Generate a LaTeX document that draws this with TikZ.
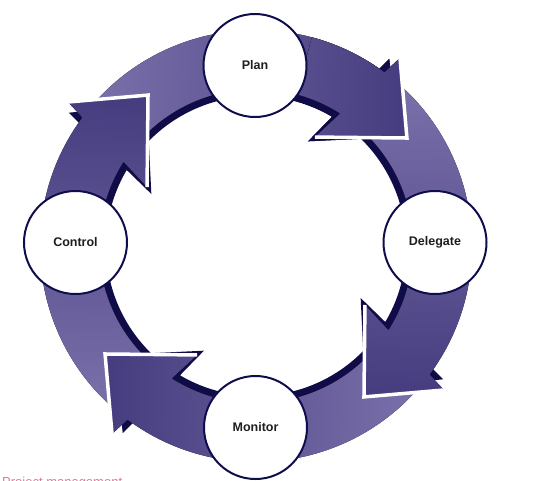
\documentclass[tikz,border=0pt]{standalone}
\usepackage{fontspec}
\setmainfont{Liberation Sans}
\definecolor{ltp}{HTML}{7A70AA}
\definecolor{dkp}{HTML}{463D80}
\definecolor{shd}{HTML}{100C48}
\definecolor{ringc}{HTML}{0F0E4D}
\definecolor{txt}{HTML}{1E1E1E}
\definecolor{pinktxt}{HTML}{E8749A}
% #1 rotation, #2 angle offset, #3 radius offset
\newcommand{\segpath}[3]{({140+#1+#2}:{157pt-#3pt}) arc[start angle={140+#1+#2}, end angle={57.55+#1+#2}, radius={157pt-#3pt}] -- ({61.57+#1+#2}:{123.9pt-#3pt}) -- ({35.58+#1+#2}:{185.6pt-#3pt}) -- ({52.55+#1+#2}:{236.8pt-#3pt}) -- ({53.49+#1+#2}:{216pt-#3pt}) arc[start angle={53.49+#1+#2}, end angle={140+#1+#2}, radius={216pt-#3pt}] -- cycle}
\newcommand{\drawseg}[1]{%
  \fill[shd] \segpath{#1}{2}{7};
  \fill[top color=dkp, bottom color=ltp, shading angle={#1-92}] \segpath{#1}{0}{0};
}
\newcommand{\tipstroke}[1]{%
  \draw[white, line width=3.5pt, line join=miter, line cap=butt] ({61.57+#1}:123.9pt) -- ({35.58+#1}:185.6pt) -- ({52.55+#1}:236.8pt);
}
\tikzset{stage/.style={circle, draw=ringc, line width=2pt, fill=white, minimum size=103pt, inner sep=0pt, text=txt, font=\bfseries\fontsize{12.5}{14}\selectfont}}
\begin{document}
\begin{tikzpicture}[x=1pt,y=1pt]
\useasboundingbox (-256,-234) rectangle (289,246);
% arrows of the cycle
\drawseg{0}
\drawseg{90}
\drawseg{-180}
\drawseg{-90}
\begin{scope}
  \clip (0,0) -- (25:300pt) arc[start angle=25, end angle=75, radius=300pt] -- cycle;
  \drawseg{0}
\end{scope}
\tipstroke{0}
\tipstroke{-90}
\tipstroke{-180}
\tipstroke{90}
% stages
\node[stage] (plan) at (-1,180.5) {Plan};
\node[stage] (delegate) at (179,3.5) {Delegate};
\node[stage] (monitor) at (-0.5,-181.5) {Monitor};
\node[stage] (control) at (-180.5,3.5) {Control};
% caption (cut by the lower edge)
\node[anchor=base west, inner sep=0pt, text=pinktxt, font=\fontsize{13}{15}\selectfont] (caption) at (-254,-240) {Project management};
\end{tikzpicture}
\end{document}
